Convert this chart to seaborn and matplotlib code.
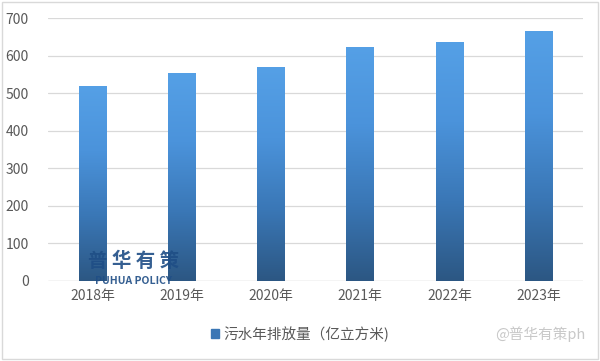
import numpy as np
import pandas as pd
import matplotlib
matplotlib.use("Agg")
import matplotlib.pyplot as plt
import seaborn as sns
from matplotlib.colors import LinearSegmentedColormap
from matplotlib.patches import Rectangle

# data
years = ["2018年", "2019年", "2020年", "2021年", "2022年", "2023年"]
discharge = [519, 553, 569, 624, 636, 665]
series_name = "污水年排放量（亿立方米)"

sns.set_style("white")
plt.rcParams['font.family'] = ['Noto Sans CJK SC', 'DejaVu Sans']

df = pd.DataFrame({"year": years, "value": discharge})

fig = plt.figure(figsize=(6, 3.61), dpi=100)
ax = fig.add_axes([0.08, 0.222, 0.892, 0.728])

sns.barplot(data=df, x="year", y="value", color="#4a8fd6", width=0.31, ax=ax, zorder=2)

# vertical gradient inside each bar (light top, dark bottom)
cmap = LinearSegmentedColormap.from_list("bar", ["#2c5783", "#3a77b6", "#4b93db", "#55a0e6"])
grad = np.linspace(0, 1, 256).reshape(-1, 1)
for p in ax.patches:
    x0, y0 = p.get_x(), p.get_y()
    w, h = p.get_width(), p.get_height()
    im = ax.imshow(grad, cmap=cmap, aspect="auto", origin="lower",
                   extent=[x0, x0 + w, y0, y0 + h], zorder=3)
    im.set_clip_path(p)
    p.set_alpha(0)

ax.set_xlim(-0.5, len(years) - 0.5)
ax.set_ylim(0, 700)
ax.set_yticks(range(0, 701, 100))
ax.yaxis.grid(True, color="#d9d9d9", linewidth=0.9, zorder=0)
ax.set_axisbelow(True)
for s in ax.spines.values():
    s.set_visible(False)
ax.axhline(0, color="#d0d0d0", linewidth=0.9, zorder=1)
ax.set_xlabel("")
ax.set_ylabel("")
ax.tick_params(axis="both", length=0, labelsize=10, labelcolor="#595959")
ax.tick_params(axis="x", pad=6)
ax.tick_params(axis="y", pad=14)

# legend at bottom
handle = Rectangle((0, 0), 1, 1, color="#3a76b5")
fig.legend([handle], [series_name], loc="center", bbox_to_anchor=(0.5, 0.075),
           frameon=False, fontsize=10.5, labelcolor="#595959",
           handlelength=0.6, handleheight=0.6, handletextpad=0.3)

# figure border
fig.patches.append(Rectangle((0.003, 0.005), 0.994, 0.99, transform=fig.transFigure,
                             fill=False, edgecolor="#d9d9d9", linewidth=1))

# watermarks
fig.text(0.222, 0.275, "普 华 有 策", fontsize=14, fontweight="bold", color="#1f4e86",
         ha="center", va="center", alpha=0.9)
fig.text(0.222, 0.222, "PUHUA POLICY", fontsize=7.5, fontweight="bold", color="#1f4e86",
         ha="center", va="center", alpha=0.9)
fig.text(0.975, 0.075, "@普华有策ph", fontsize=10.5, color="#c8c8c8",
         ha="right", va="center")

fig.savefig("out.png", dpi=100)
